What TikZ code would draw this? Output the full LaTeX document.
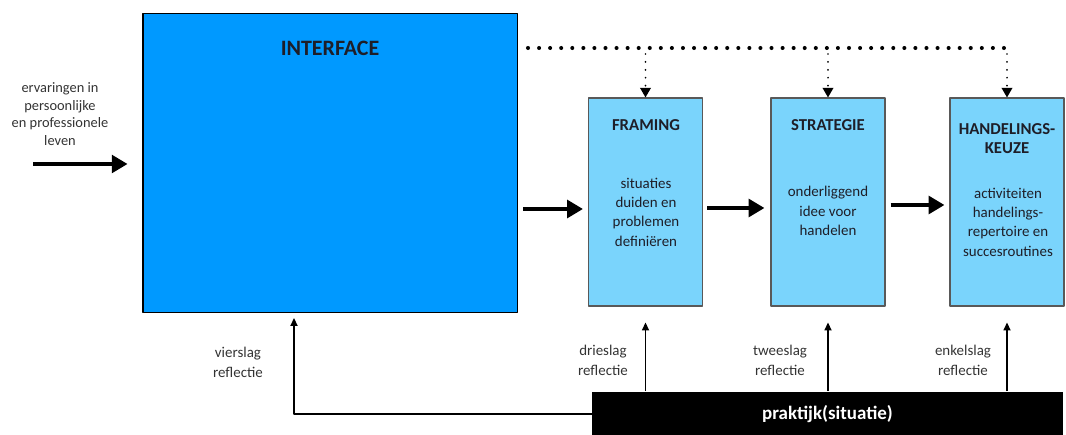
\documentclass[tikz,border=0pt]{standalone}
\usepackage{fontspec}
\setmainfont{Carlito}
\usetikzlibrary{arrows.meta,positioning}
\definecolor{ifblue}{RGB}{0,153,255}
\definecolor{stageblue}{RGB}{122,212,252}
\definecolor{txtdark}{RGB}{30,30,40}
\begin{document}
\begin{tikzpicture}[x=0.02cm,y=-0.02cm,line join=round,
	bigarrow/.style={-{Triangle[length=9pt,width=10pt]},line width=2.3pt},
	thinarrow/.style={-{Triangle[length=4.5pt,width=4pt]},line width=0.9pt},
	dotline/.style={line width=2.3pt,line cap=round,dash pattern=on 0pt off 6.3pt},
	dotdown/.style={-{Triangle[length=5.5pt,width=6pt]},line width=1.1pt,line cap=round,dash pattern=on 0pt off 4.5pt},
	stage/.style={draw=black!65,line width=0.6pt,fill=stageblue,minimum width=2.28cm,minimum height=4.16cm,inner sep=0pt},
	ttl/.style={font=\fontsize{9.5}{10.8}\selectfont\bfseries,text=txtdark,align=center},
	body/.style={font=\fontsize{8.5}{11}\selectfont,text=txtdark,align=center},
	lbl/.style={font=\fontsize{8.5}{11.3}\selectfont,text=black!80,align=center}]
	\useasboundingbox (0,0) rectangle (1066,435);
	% blokken
	\node[draw=black,line width=1.1pt,fill=ifblue,minimum width=7.5cm,minimum height=5.98cm,inner sep=0pt] (IF) at (330,163) {};
	\node[ttl,font=\fontsize{12.5}{14}\selectfont\bfseries] (IFt) at (330,48) {INTERFACE};
	\node[stage] (FR) at (645.5,202) {};
	\node[stage] (ST) at (828,202) {};
	\node[stage] (HK) at (1007,202) {};
	\node[ttl] (FRt) at (646,125) {FRAMING};
	\node[ttl] (STt) at (828,125) {STRATEGIE};
	\node[ttl] (HKt) at (1007,139) {HANDELINGS-\\KEUZE};
	\node[body] (FRb) at (646,212) {situaties\\duiden en\\problemen\\definiëren};
	\node[body] (STb) at (828,211) {onderliggend\\idee voor\\handelen};
	\node[body] (HKb) at (1008,222) {activiteiten\\handelings-\\repertoire en\\succesroutines};
	\node[fill=black,minimum width=9.42cm,minimum height=0.9cm,inner sep=0pt,text=white,font=\fontsize{10.8}{12}\selectfont\bfseries] (PR) at (827.5,414) {praktijk(situatie)};
	% invoer
	\node[lbl,font=\fontsize{8.2}{10}\selectfont] (inp) at (60,114) {ervaringen in\\persoonlijke\\en professionele\\leven};
	\coordinate (in) at (33,164);
	\draw[bigarrow,shorten >=0.28cm] (in) -- (in -| IF.west);
	% hoofdlijn
	\draw[bigarrow,shorten <=0.1cm,shorten >=0.1cm] ([yshift=-0.14cm]FR.west -| IF.east) -- ([yshift=-0.14cm]FR.west);
	\draw[bigarrow,shorten <=0.08cm,shorten >=0.12cm] ([yshift=-0.12cm]FR.east) -- ([yshift=-0.12cm]ST.west);
	\draw[bigarrow,shorten <=0.1cm,shorten >=0.1cm] ([yshift=-0.06cm]ST.east) -- ([yshift=-0.06cm]HK.west);
	% gestippelde terugkoppeling
	\coordinate (d0) at (528,48);
	\draw[dotline] (d0) -- (d0 -| HK.north);
	\foreach \n in {FR,ST,HK}
		\draw[dotdown] ([yshift=-0.12cm]\n.north |- d0) -- (\n.north);
	% reflectie
	\foreach \n in {FR,ST,HK}
		\draw[thinarrow,shorten >=0.32cm] (\n.south |- PR.north) -- (\n.south);
	\coordinate (vs) at (294,313);
	\draw[thinarrow,shorten >=0.1cm] (PR.west) -| (vs);
	\node[lbl] (vier) at (238,362) {vierslag\\reflectie};
	\node[lbl] (drie) at (603,360) {drieslag\\reflectie};
	\node[lbl] (twee) at (780,360) {tweeslag\\reflectie};
	\node[lbl] (enkel) at (963,360) {enkelslag\\reflectie};
\end{tikzpicture}
\end{document}
